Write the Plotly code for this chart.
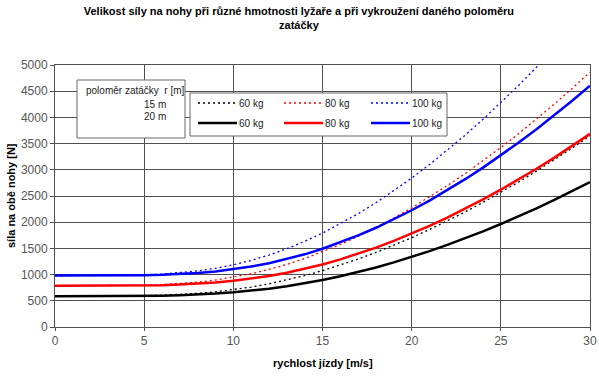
import plotly.graph_objects as go

speed = list(range(0, 31))

# r = 20 m (solid lines)
f60_r20 = [589, 589, 589, 589, 591, 593, 598, 607, 619, 637, 661, 692, 730, 777, 832, 896,
           968, 1048, 1136, 1233, 1337, 1448, 1567, 1693, 1826, 1965, 2112, 2265, 2425, 2591, 2763]
f80_r20 = [785, 785, 785, 786, 787, 791, 798, 809, 825, 849, 881, 922, 973, 1036, 1109, 1194,
           1290, 1397, 1515, 1643, 1782, 1931, 2089, 2257, 2434, 2620, 2816, 3020, 3233, 3454, 3685]
f100_r20 = [981, 981, 981, 982, 984, 989, 997, 1011, 1032, 1061, 1101, 1153, 1217, 1295, 1387, 1493,
            1613, 1747, 1894, 2054, 2228, 2413, 2611, 2821, 3042, 3275, 3520, 3775, 4041, 4318, 4606]

# r = 15 m (dotted lines)
f60_r15 = [589, 589, 589, 590, 592, 597, 606, 620, 642, 672, 712, 762, 824, 896, 980, 1075,
           1181, 1297, 1423, 1559, 1705, 1860, 2024, 2196, 2378, 2568, 2767, 2975, 3191, 3415, 3648]
f80_r15 = [785, 785, 785, 786, 789, 796, 808, 827, 856, 896, 949, 1016, 1098, 1195, 1307, 1434,
           1575, 1730, 1898, 2079, 2273, 2479, 2698, 2928, 3171, 3425, 3690, 3966, 4254, 4553, 4864]
f100_r15 = [981, 981, 981, 983, 987, 995, 1010, 1034, 1070, 1120, 1186, 1270, 1373, 1494, 1634, 1792,
            1969, 2162, 2372, 2599, 2841, 3099, 3373, 3661, 3963, 4281, 4612, 4958, 5318, 5692, 6080]

mass_labels = ["60 kg", "80 kg", "100 kg"]
radius_labels = ["15 m", "20 m"]
colors = ["#000000", "#ff0000", "#0000ff"]

title_text = "Velikost síly na nohy při různé hmotnosti lyžaře a při vykroužení daného poloměru<br>zatáčky"
x_title = "rychlost jízdy [m/s]"
y_title = "síla na obě nohy [N]"
legend_title = "poloměr zatáčky  r [m]"

FONT = "Liberation Sans, Arial, sans-serif"
DOT = "2px,3px"
GRID = "#505050"

fig = go.Figure()
dotted = [f60_r15, f80_r15, f100_r15]
solid = [f60_r20, f80_r20, f100_r20]
for ys, c, lab in zip(dotted, colors, mass_labels):
    fig.add_trace(go.Scatter(x=speed, y=ys, mode="lines", name=lab + " (15 m)",
                             line=dict(color=c, width=1.3, dash=DOT), showlegend=False))
for ys, c, lab in zip(solid, colors, mass_labels):
    fig.add_trace(go.Scatter(x=speed, y=ys, mode="lines", name=lab + " (20 m)",
                             line=dict(color=c, width=2.5), showlegend=False))

L, R, T, B = 55, 9, 65, 49
W, H = 599, 376
pw, ph = W - L - R, H - T - B

def px(xp):
    return (xp - L) / pw

def py(yp):
    return 1 - (yp - T) / ph

shapes = []
annotations = []
# radius box
shapes.append(dict(type="rect", xref="paper", yref="paper", x0=px(77), x1=px(185), y0=py(138), y1=py(80),
                   line=dict(color="#666666", width=1), fillcolor="white", layer="above"))
annotations.append(dict(xref="paper", yref="paper", x=px(84), y=py(90), xanchor="left", yanchor="middle",
                        text=legend_title, showarrow=False, font=dict(size=10, color="#222", family=FONT)))
for i, rl in enumerate(radius_labels):
    annotations.append(dict(xref="paper", yref="paper", x=px(168), y=py(104 + 12.5 * i), xanchor="right",
                            yanchor="middle", text=rl, showarrow=False,
                            font=dict(size=10, color="#222", family=FONT)))
# mass legend box
shapes.append(dict(type="rect", xref="paper", yref="paper", x0=px(190), x1=px(447), y0=py(136), y1=py(93),
                   line=dict(color="#666666", width=1), fillcolor="white", layer="above"))
col_x = [198, 284, 371]
row_y = [103, 123]
for r, (dash, wdt) in enumerate([(DOT, 1.3), ("solid", 2.5)]):
    for cidx, (c, lab) in enumerate(zip(colors, mass_labels)):
        x0 = col_x[cidx]
        shapes.append(dict(type="line", xref="paper", yref="paper", x0=px(x0), x1=px(x0 + 39),
                           y0=py(row_y[r]), y1=py(row_y[r]), line=dict(color=c, width=wdt, dash=dash),
                           layer="above"))
        annotations.append(dict(xref="paper", yref="paper", x=px(x0 + 39), y=py(row_y[r]), xanchor="left",
                                yanchor="middle", text=lab, showarrow=False,
                                font=dict(size=10, color="#222", family=FONT)))

annotations.append(dict(xref="paper", yref="paper", x=0.5, y=py(363), xanchor="center", yanchor="middle",
                        text="<b>" + x_title + "</b>", showarrow=False,
                        font=dict(size=11, color="#000", family=FONT)))
annotations.append(dict(xref="paper", yref="paper", x=px(11), y=0.5, xanchor="center", yanchor="middle",
                        text="<b>" + y_title + "</b>", textangle=-90, showarrow=False,
                        font=dict(size=11, color="#000", family=FONT)))

fig.update_layout(
    width=W, height=H,
    margin=dict(l=L, r=R, t=T, b=B, autoexpand=False),
    paper_bgcolor="white", plot_bgcolor="white",
    title=dict(text="<b>" + title_text + "</b>", x=px(322), xanchor="center", y=1 - 15 / H, yanchor="middle",
               font=dict(size=11, color="#000", family=FONT)),
    font=dict(family=FONT, size=12, color="#444"),
    shapes=shapes, annotations=annotations,
    xaxis=dict(range=[0, 30], tick0=0, dtick=5, showgrid=True, gridcolor=GRID, gridwidth=1,
               showline=True, linecolor=GRID, mirror=True, ticks="outside", ticklen=3,
               tickcolor=GRID, zeroline=False, tickfont=dict(size=12, color="#555")),
    yaxis=dict(range=[0, 5000], tick0=0, dtick=500, showgrid=True, gridcolor=GRID, gridwidth=1,
               showline=True, linecolor=GRID, mirror=True, ticks="outside", ticklen=4,
               tickcolor=GRID, zeroline=False, tickfont=dict(size=12, color="#555")),
)

fig.write_html("out.html", config={"displayModeBar": False},
               post_script="document.body.style.margin='0';document.body.style.overflow='hidden';")
